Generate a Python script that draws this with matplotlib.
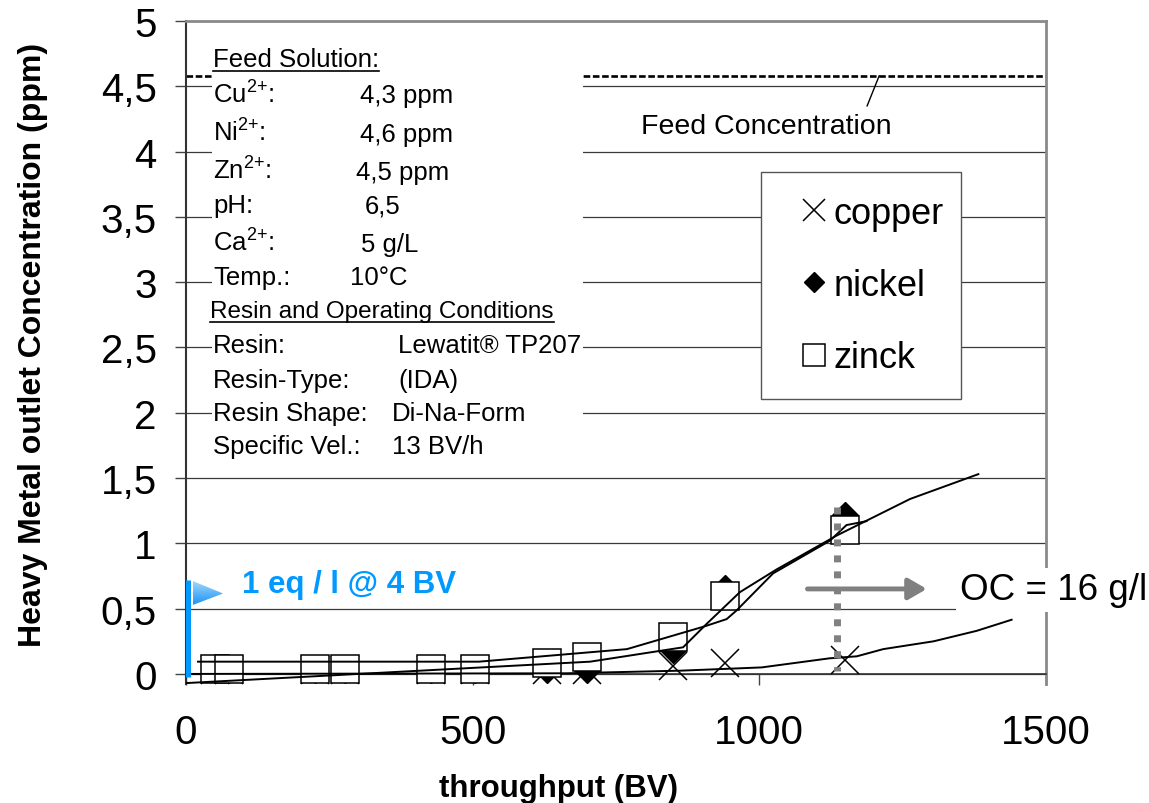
import numpy as np
import matplotlib
matplotlib.use("Agg")
import matplotlib.pyplot as plt
from matplotlib.patches import Rectangle, Polygon
from matplotlib.colors import LinearSegmentedColormap

plt.rcParams['font.family'] = ['Liberation Sans', 'DejaVu Sans']
plt.rcParams['mathtext.fontset'] = 'custom'
plt.rcParams['mathtext.rm'] = 'Liberation Sans'
plt.rcParams['mathtext.default'] = 'regular'

# sampling points (bed volumes) and measured outlet concentrations (ppm)
throughput = [50, 75, 225, 277, 427, 504, 630, 700, 850, 940, 1150]
copper = [0.03, 0.03, 0.03, 0.03, 0.03, 0.03, 0.03, 0.03, 0.06, 0.08, 0.11]
nickel = [0.03, 0.03, 0.03, 0.03, 0.03, 0.03, 0.03, 0.03, 0.18, 0.66, 1.22]
zinc = [0.04, 0.04, 0.04, 0.04, 0.04, 0.04, 0.08, 0.13, 0.28, 0.60, 1.10]

# smoothed breakthrough curves
zinc_curve_bv = [21, 511, 769, 905, 943, 960, 1024, 1123, 1152, 1187]
zinc_curve = [0.094, 0.094, 0.19, 0.365, 0.42, 0.485, 0.77, 1.02, 1.14, 1.17]
nickel_curve_bv = [0, 705, 867, 908, 966, 1030, 1135, 1263, 1382]
nickel_curve = [-0.07, 0.094, 0.204, 0.383, 0.626, 0.80, 1.06, 1.34, 1.53]
copper_curve_bv = [0, 664, 862, 1004, 1123, 1170, 1216, 1304, 1379, 1440]
copper_curve = [0.0, 0.005, 0.025, 0.05, 0.12, 0.135, 0.19, 0.25, 0.33, 0.415]

feed_level = 4.58
loading_bv = 4
oc_bv = 1136

y_ticks = [0, 0.5, 1, 1.5, 2, 2.5, 3, 3.5, 4, 4.5, 5]
y_tick_labels = ['0', '0,5', '1', '1,5', '2', '2,5', '3', '3,5', '4', '4,5', '5']
x_ticks = [0, 500, 1000, 1500]

# "{+}" keeps mathtext from spacing the plus sign like an operator
feed_labels = ['Cu$^{2{+}}$:', 'Ni$^{2{+}}$:', 'Zn$^{2{+}}$:', 'pH:', 'Ca$^{2{+}}$:', 'Temp.:']
feed_values = ['4,3 ppm', '4,6 ppm', '4,5 ppm', '6,5', '5 g/L', '10°C']
feed_value_x = [303, 303, 297, 312, 305, 286]
feed_rows_y = [4.377, 4.083, 3.790, 3.535, 3.241, 2.986]

resin_labels = ['Resin:', 'Resin-Type:', 'Resin Shape:', 'Specific Vel.:']
resin_values = ['Lewatit® TP207', '(IDA)', 'Di-Na-Form', '13 BV/h']
resin_value_x = [370, 370, 359, 359]
resin_rows_y = [2.463, 2.200, 1.945, 1.690]

fig = plt.figure(figsize=(11.49, 8.04), dpi=100)
ax = fig.add_axes([0.16188, 0.14801, 0.74848, 0.82463])
ax.set_xlim(0, 1500)
ax.set_ylim(-0.077, 5)

# axes frame: x axis crosses at zero, grey border on top/right
ax.spines['bottom'].set_position(('data', 0))
ax.spines['bottom'].set_color('#333333')
ax.spines['bottom'].set_linewidth(1.2)
ax.spines['left'].set_color('#333333')
ax.spines['left'].set_linewidth(1.5)
for side in ['top', 'right']:
    ax.spines[side].set_color('#8a8a8a')
    ax.spines[side].set_linewidth(2)

ax.set_yticks(y_ticks, y_tick_labels)
ax.set_xticks(x_ticks)
ax.tick_params(axis='y', direction='out', length=8, width=1, color='#444444', pad=13, labelsize=29)
ax.tick_params(axis='x', direction='out', length=8, width=1, color='#444444', pad=20, labelsize=29)
ax.grid(axis='y', color='#3a3a3a', linewidth=0.9)
ax.set_axisbelow(True)

ax.set_ylabel('Heavy Metal outlet Concentration (ppm)', fontsize=23, fontweight='bold')
ax.yaxis.label.set_va('center')
ax.yaxis.set_label_coords(-0.178, 0.513)
ax.set_xlabel('throughput (BV)', fontsize=22.5, fontweight='bold')
ax.xaxis.label.set_va('center')
ax.xaxis.set_label_coords(0.4326, -0.157)

# feed concentration reference line
ax.axhline(feed_level, color='black', linewidth=1.9, dashes=(2.5, 1), zorder=1)
ax.plot([1209, 1188], [feed_level, 4.35], color='black', linewidth=1, zorder=1)
ax.text(1013, 4.196, 'Feed Concentration', fontsize=20.5, ha='center', va='center', zorder=3)

# white panel with the operating conditions
ax.add_patch(Rectangle((0.0302, 0.3318), 0.4314, 0.6482, transform=ax.transAxes,
                       facecolor='white', edgecolor='none', zorder=2))
headings = []
headings.append(ax.text(47, 4.658, 'Feed Solution:', fontsize=18.5, va='baseline', zorder=3))
for lab, val, vx, ry in zip(feed_labels, feed_values, feed_value_x, feed_rows_y):
    ax.text(47, ry, lab, fontsize=18.5, va='baseline', zorder=3)
    ax.text(vx, ry, val, fontsize=18.5, va='baseline', zorder=3)
headings.append(ax.text(42, 2.731, 'Resin and Operating Conditions', fontsize=17.5, va='baseline', zorder=3))
for lab, val, vx, ry in zip(resin_labels, resin_values, resin_value_x, resin_rows_y):
    ax.text(47, ry, lab, fontsize=18.5, va='baseline', zorder=3)
    ax.text(vx, ry, val, fontsize=18.5, va='baseline', zorder=3)

# measured points
ax.plot(throughput, copper, linestyle='none', marker='x', markersize=20, markeredgewidth=1.1,
        color='black', zorder=4, label='copper')
ax.plot(throughput, nickel, linestyle='none', marker='D', markersize=13, markerfacecolor='black',
        markeredgecolor='black', zorder=5, label='nickel')
ax.plot(throughput, zinc, linestyle='none', marker='s', markersize=20, markerfacecolor='white',
        markeredgecolor='black', markeredgewidth=1.1, zorder=6, label='zinck')

# breakthrough curves
for bv, conc in [(zinc_curve_bv, zinc_curve), (nickel_curve_bv, nickel_curve),
                 (copper_curve_bv, copper_curve)]:
    ax.plot(bv, conc, color='black', linewidth=1.4, zorder=7)

# operating capacity marker
ax.plot([oc_bv, oc_bv], [1.28, 0.02], color='#808080', linewidth=5, dashes=(1, 1.3),
        dash_capstyle='butt', zorder=8)
ax.annotate('', xy=(1292, 0.651), xytext=(1084, 0.651),
            arrowprops=dict(arrowstyle='-|>,head_length=0.55,head_width=0.32', color='#808080',
                            linewidth=3.5, mutation_scale=20, shrinkA=0, shrinkB=0),
            zorder=8)
ax.text(1350, 0.643, 'OC = 16 g/l', fontsize=26.5, ha='left', va='center', clip_on=False,
        bbox=dict(facecolor='white', edgecolor='none', pad=3), zorder=9)

# loading step at 4 BV
ax.plot([loading_bv, loading_bv], [-0.02, 0.72], color='#0099ff', linewidth=3.6,
        solid_capstyle='butt', zorder=9)
tri = Polygon([(11.7, 0.712), (11.7, 0.528), (64.6, 0.616)], closed=True,
              facecolor='none', edgecolor='none')
ax.add_patch(tri)
blue_fade = LinearSegmentedColormap.from_list('blue_fade', ['#1e93f2', '#a3dafe'])
ax.imshow(np.linspace(0, 1, 64).reshape(-1, 1), cmap=blue_fade, origin='lower', aspect='auto',
          extent=[11.7, 64.6, 0.528, 0.712], clip_path=tri, zorder=9)
ax.set_xlim(0, 1500)
ax.set_ylim(-0.077, 5)
ax.text(97, 0.689, '1 eq / l @ 4 BV', color='#0099ff', fontsize=22.5, fontweight='bold',
        va='center', zorder=9)

# legend box
ax.add_patch(Rectangle((0.6686, 0.4299), 0.2326, 0.3428, transform=ax.transAxes,
                       facecolor='white', edgecolor='#555555', linewidth=1, zorder=3))
leg = ax.legend(loc='center', bbox_to_anchor=(0.7955, 0.6011), frameon=False, fontsize=26,
                labelspacing=1.03, handlelength=1.0, handletextpad=0.05, markerscale=0.78,
                borderpad=0)
leg.set_zorder(10)

# underline the two headings
fig.canvas.draw()
inv = ax.transData.inverted()
for t in headings:
    bb = t.get_window_extent()
    (x0, _), (x1, _) = inv.transform([[bb.x0, bb.y0], [bb.x1, bb.y1]])
    y_line = t.get_position()[1] - 0.038
    ax.plot([x0, x1], [y_line, y_line], color='black', linewidth=1.2, zorder=3)

fig.savefig('out.png', dpi=100)
